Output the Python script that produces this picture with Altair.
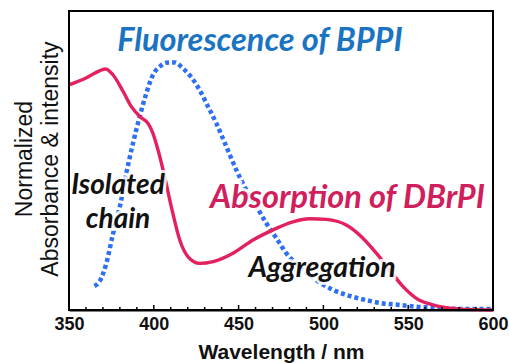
import altair as alt
import pandas as pd

# Absorption of DBrPI (normalized)
abs_wl = [350, 360, 368, 371.6, 376, 382, 386.8, 391.7, 396.6, 399.5, 402.5, 406.4, 410.3, 415.3,
          420.2, 427, 435, 446.7, 458.5, 470.3, 482, 491.9, 501.7, 513.5, 523.3, 531.2, 539, 547,
          554.8, 564.6, 574.4, 584.3, 600]
abs_val = [0.753, 0.776, 0.800, 0.806, 0.786, 0.730, 0.680, 0.647, 0.624, 0.591, 0.535, 0.446, 0.346, 0.234,
           0.178, 0.156, 0.162, 0.190, 0.234, 0.268, 0.295, 0.305, 0.303, 0.284, 0.240, 0.190, 0.134, 0.078,
           0.039, 0.017, 0.006, 0.002, 0.0]

# Fluorescence of BPPI (normalized)
fl_wl = [365, 368, 372, 376, 380, 383.8, 387.7, 391.7, 395.6, 399.5, 403.5, 407.4, 412.3, 417.2, 422.2,
         427, 432, 436.9, 442.8, 448.7, 454.6, 460.5, 466.4, 472.3, 478.1, 486, 495.8, 505.7, 515.5,
         525.3, 535.1, 545, 554.8, 564.6, 584.3, 600]
fl_val = [0.080, 0.095, 0.156, 0.256, 0.346, 0.457, 0.557, 0.647, 0.725, 0.786, 0.814, 0.827, 0.828, 0.808, 0.778,
          0.736, 0.680, 0.624, 0.546, 0.468, 0.401, 0.346, 0.290, 0.240, 0.190, 0.145, 0.100, 0.067, 0.047,
          0.033, 0.022, 0.017, 0.011, 0.008, 0.003, 0.003]

major_ticks = [350, 400, 450, 500, 550, 600]
minor_ticks = [360, 370, 380, 390, 410, 420, 430, 440, 460, 470, 480, 490, 510, 520, 530, 540, 560, 570, 580, 590]

W, H = 424, 299
abs_df = pd.DataFrame({"wl": abs_wl, "v": abs_val})
fl_df = pd.DataFrame({"wl": fl_wl, "v": fl_val})

xscale = alt.Scale(domain=[350, 600], nice=False, zero=False)
yscale = alt.Scale(domain=[0, 1], nice=False)

xenc = alt.X("wl:Q", scale=xscale,
             axis=alt.Axis(title="Wavelength / nm", values=major_ticks, ticks=False, grid=False,
                           labelFont="Liberation Sans", labelFontWeight="bold", labelFontSize=18,
                           labelColor="#111", labelPadding=5, labelFlush=False,
                           titleFont="Liberation Sans", titleFontWeight="bold", titleFontSize=21,
                           titleColor="#111", titlePadding=8, domainColor="black", domainWidth=2))
yenc = alt.Y("v:Q", scale=yscale, axis=None)

fl_line = alt.Chart(fl_df).mark_line(color="#2f6ff2", strokeWidth=4.5, strokeDash=[4, 3],
                                     strokeCap="butt", interpolate="monotone").encode(x=xenc, y=yenc)
abs_line = alt.Chart(abs_df).mark_line(color="#e2215e", strokeWidth=3.4,
                                       interpolate="monotone").encode(x=xenc, y=yenc)

maj_df = pd.DataFrame({"t": major_ticks})
min_df = pd.DataFrame({"t": minor_ticks})
maj_rule = alt.Chart(maj_df).mark_rule(color="black", strokeWidth=1.5).encode(
    x=alt.X("t:Q", scale=xscale), y=alt.value(H), y2=alt.value(H - 5))
min_rule = alt.Chart(min_df).mark_rule(color="black", strokeWidth=1.5).encode(
    x=alt.X("t:Q", scale=xscale), y=alt.value(H), y2=alt.value(H - 3))

frame = alt.Chart(pd.DataFrame({"a": [0]})).mark_rect(
    fill=None, stroke="black", strokeWidth=2).encode(
    x=alt.value(0), x2=alt.value(W), y=alt.value(0), y2=alt.value(H))


def label(text, x, y, color, size, halo=False):
    layers = []
    base = dict(text=text, font="Lato", fontStyle="italic", fontWeight="bold", fontSize=size,
                align="center", baseline="middle")
    if halo:
        layers.append(alt.Chart(pd.DataFrame({"a": [0]})).mark_text(
            color="white", stroke="white", strokeWidth=6, opacity=0.85, **base).encode(
            x=alt.X(datum=x, scale=xscale), y=alt.Y(datum=y, scale=yscale)))
    layers.append(alt.Chart(pd.DataFrame({"a": [0]})).mark_text(color=color, **base).encode(
        x=alt.X(datum=x, scale=xscale), y=alt.Y(datum=y, scale=yscale)))
    return layers


texts = []
texts += label("Fluorescence of BPPI", 462.6, 0.90, "#1a74c2", 32.5)
texts += label("Absorption of DBrPI", 514.2, 0.375, "#d01f5c", 32.5, halo=True)
texts += label("Isolated", 378.9, 0.415, "#111111", 28, halo=True)
texts += label("chain", 378.9, 0.30, "#111111", 28, halo=True)
texts += label("Aggregation", 499.2, 0.14, "#111111", 28.5, halo=True)

ytitle1 = alt.Chart(pd.DataFrame({"a": [0]})).mark_text(
    text="Normalized", font="Liberation Sans", fontSize=23, angle=270, align="center",
    baseline="alphabetic", color="#111").encode(x=alt.value(-37), y=alt.value(148))
ytitle2 = alt.Chart(pd.DataFrame({"a": [0]})).mark_text(
    text="Absorbance & intensity", font="Liberation Sans", fontSize=23, angle=270, align="center",
    baseline="alphabetic", color="#111").encode(x=alt.value(-11), y=alt.value(148))

chart = alt.layer(fl_line, abs_line, maj_rule, min_rule, *texts, ytitle1, ytitle2, frame).properties(
    width=W, height=H,
    autosize=alt.AutoSizeParams(type="none"),
    padding={"left": 69, "top": 11, "right": 16, "bottom": 53},
).configure(background="white").configure_view(stroke=None)

chart.save("out.html", embed_options={"renderer": "svg", "actions": False})
